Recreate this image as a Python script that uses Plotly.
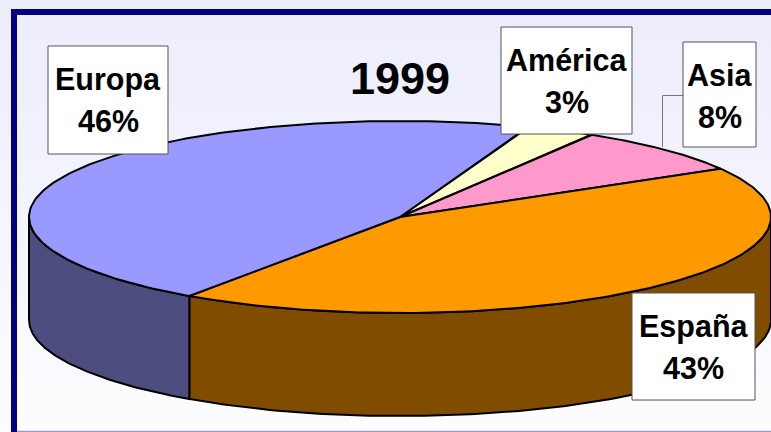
import numpy as np
import plotly.graph_objects as go

# Datos del grafico
categorias = ["América", "Asia", "España", "Europa"]
porcentajes = [3, 8, 43, 46]
colores_top = ["#FFFFCC", "#FF99CC", "#FF9900", "#9999FF"]
colores_lado = ["#80804D", "#804D66", "#804D00", "#4D4D80"]
titulo = "1999"

# Geometria de la tarta (pixeles de la imagen)
CX, CY = 400, 217
RX, RY = 371, 96
GROSOR = 103
INICIO = 20.2


def arco(a0, a1, dy=0):
    t = np.radians(np.linspace(a0, a1, 160))
    return CX + RX * np.sin(t), CY - RY * np.cos(t) + dy


fig = go.Figure()

# Fondo degradado
fig.add_trace(go.Scatter(
    x=[0, 771, 771, 0, 0], y=[0, 0, 432, 432, 0],
    mode="none", fill="toself",
    fillgradient=dict(type="vertical", colorscale=[[0, "#FDFDFF"], [1, "#ECECFC"]]),
    hoverinfo="skip",
))

# Angulos de cada porcion
cortes = INICIO + np.cumsum([0] + porcentajes) * 3.6

# Paredes laterales: solo la parte delantera de la tarta
for i in range(len(categorias)):
    a0 = max(cortes[i], 90)
    a1 = min(cortes[i + 1], 270)
    if a1 <= a0:
        continue
    xs, ys = arco(a0, a1)
    xb, yb = arco(a1, a0, GROSOR)
    fig.add_trace(go.Scatter(
        x=np.r_[xs, xb, xs[0]], y=np.r_[ys, yb, ys[0]],
        mode="lines", fill="toself", fillcolor=colores_lado[i],
        line=dict(color="black", width=2), hoverinfo="skip",
    ))

# Cara superior
for i, cat in enumerate(categorias):
    xs, ys = arco(cortes[i], cortes[i + 1])
    fig.add_trace(go.Scatter(
        x=np.r_[CX, xs, CX], y=np.r_[CY, ys, CY],
        mode="lines", fill="toself", fillcolor=colores_top[i],
        line=dict(color="black", width=2),
        name=cat, text=f"{cat} {porcentajes[i]}%", hoverinfo="text",
    ))

# Cajas de etiquetas: x0, y0, x1, y1
cajas = {
    "Europa": (48, 46, 168, 154),
    "América": (501, 27, 632, 134),
    "Asia": (683, 42, 756, 147),
    "España": (632, 293, 755, 400),
}

shapes = [
    # marco azul
    dict(type="rect", x0=14, y0=12, x1=800, y1=445,
         line=dict(color="#000080", width=6), layer="above"),
    dict(type="line", x0=17, y0=431.5, x1=771, y1=431.5,
         line=dict(color="#9C9CCC", width=1.5), layer="above"),
    # lineas guia de Asia
    dict(type="path", path="M 683 95.5 L 662.5 95.5 L 662.5 147",
         line=dict(color="#777777", width=1), layer="above"),
]
annotations = [dict(x=400, y=78, text=titulo, showarrow=False,
                    font=dict(size=45, color="black"))]
for i, cat in enumerate(categorias):
    x0, y0, x1, y1 = cajas[cat]
    shapes.append(dict(type="rect", x0=x0, y0=y0, x1=x1, y1=y1, fillcolor="white",
                       line=dict(color="#555555", width=1), layer="above"))
    xm = (x0 + x1) / 2
    annotations.append(dict(x=xm, y=y0 + 33, text=cat, showarrow=False,
                            font=dict(size=30.5, color="black")))
    annotations.append(dict(x=xm, y=y0 + 75, text=f"{porcentajes[i]}%", showarrow=False,
                            font=dict(size=30.5, color="black")))
for a in annotations:
    a["text"] = f"<b>{a['text']}</b>"
    a["font"]["family"] = "Liberation Sans"

fig.update_layout(
    width=771, height=432,
    margin=dict(l=0, r=0, t=0, b=0),
    showlegend=False,
    paper_bgcolor="white",
    plot_bgcolor="white",
    xaxis=dict(range=[0, 771], visible=False, fixedrange=True),
    yaxis=dict(range=[432, 0], visible=False, fixedrange=True),
    shapes=shapes,
    annotations=annotations,
)

fig.write_html("out.html", config=dict(displayModeBar=False),
               post_script="document.body.style.margin='0';")
